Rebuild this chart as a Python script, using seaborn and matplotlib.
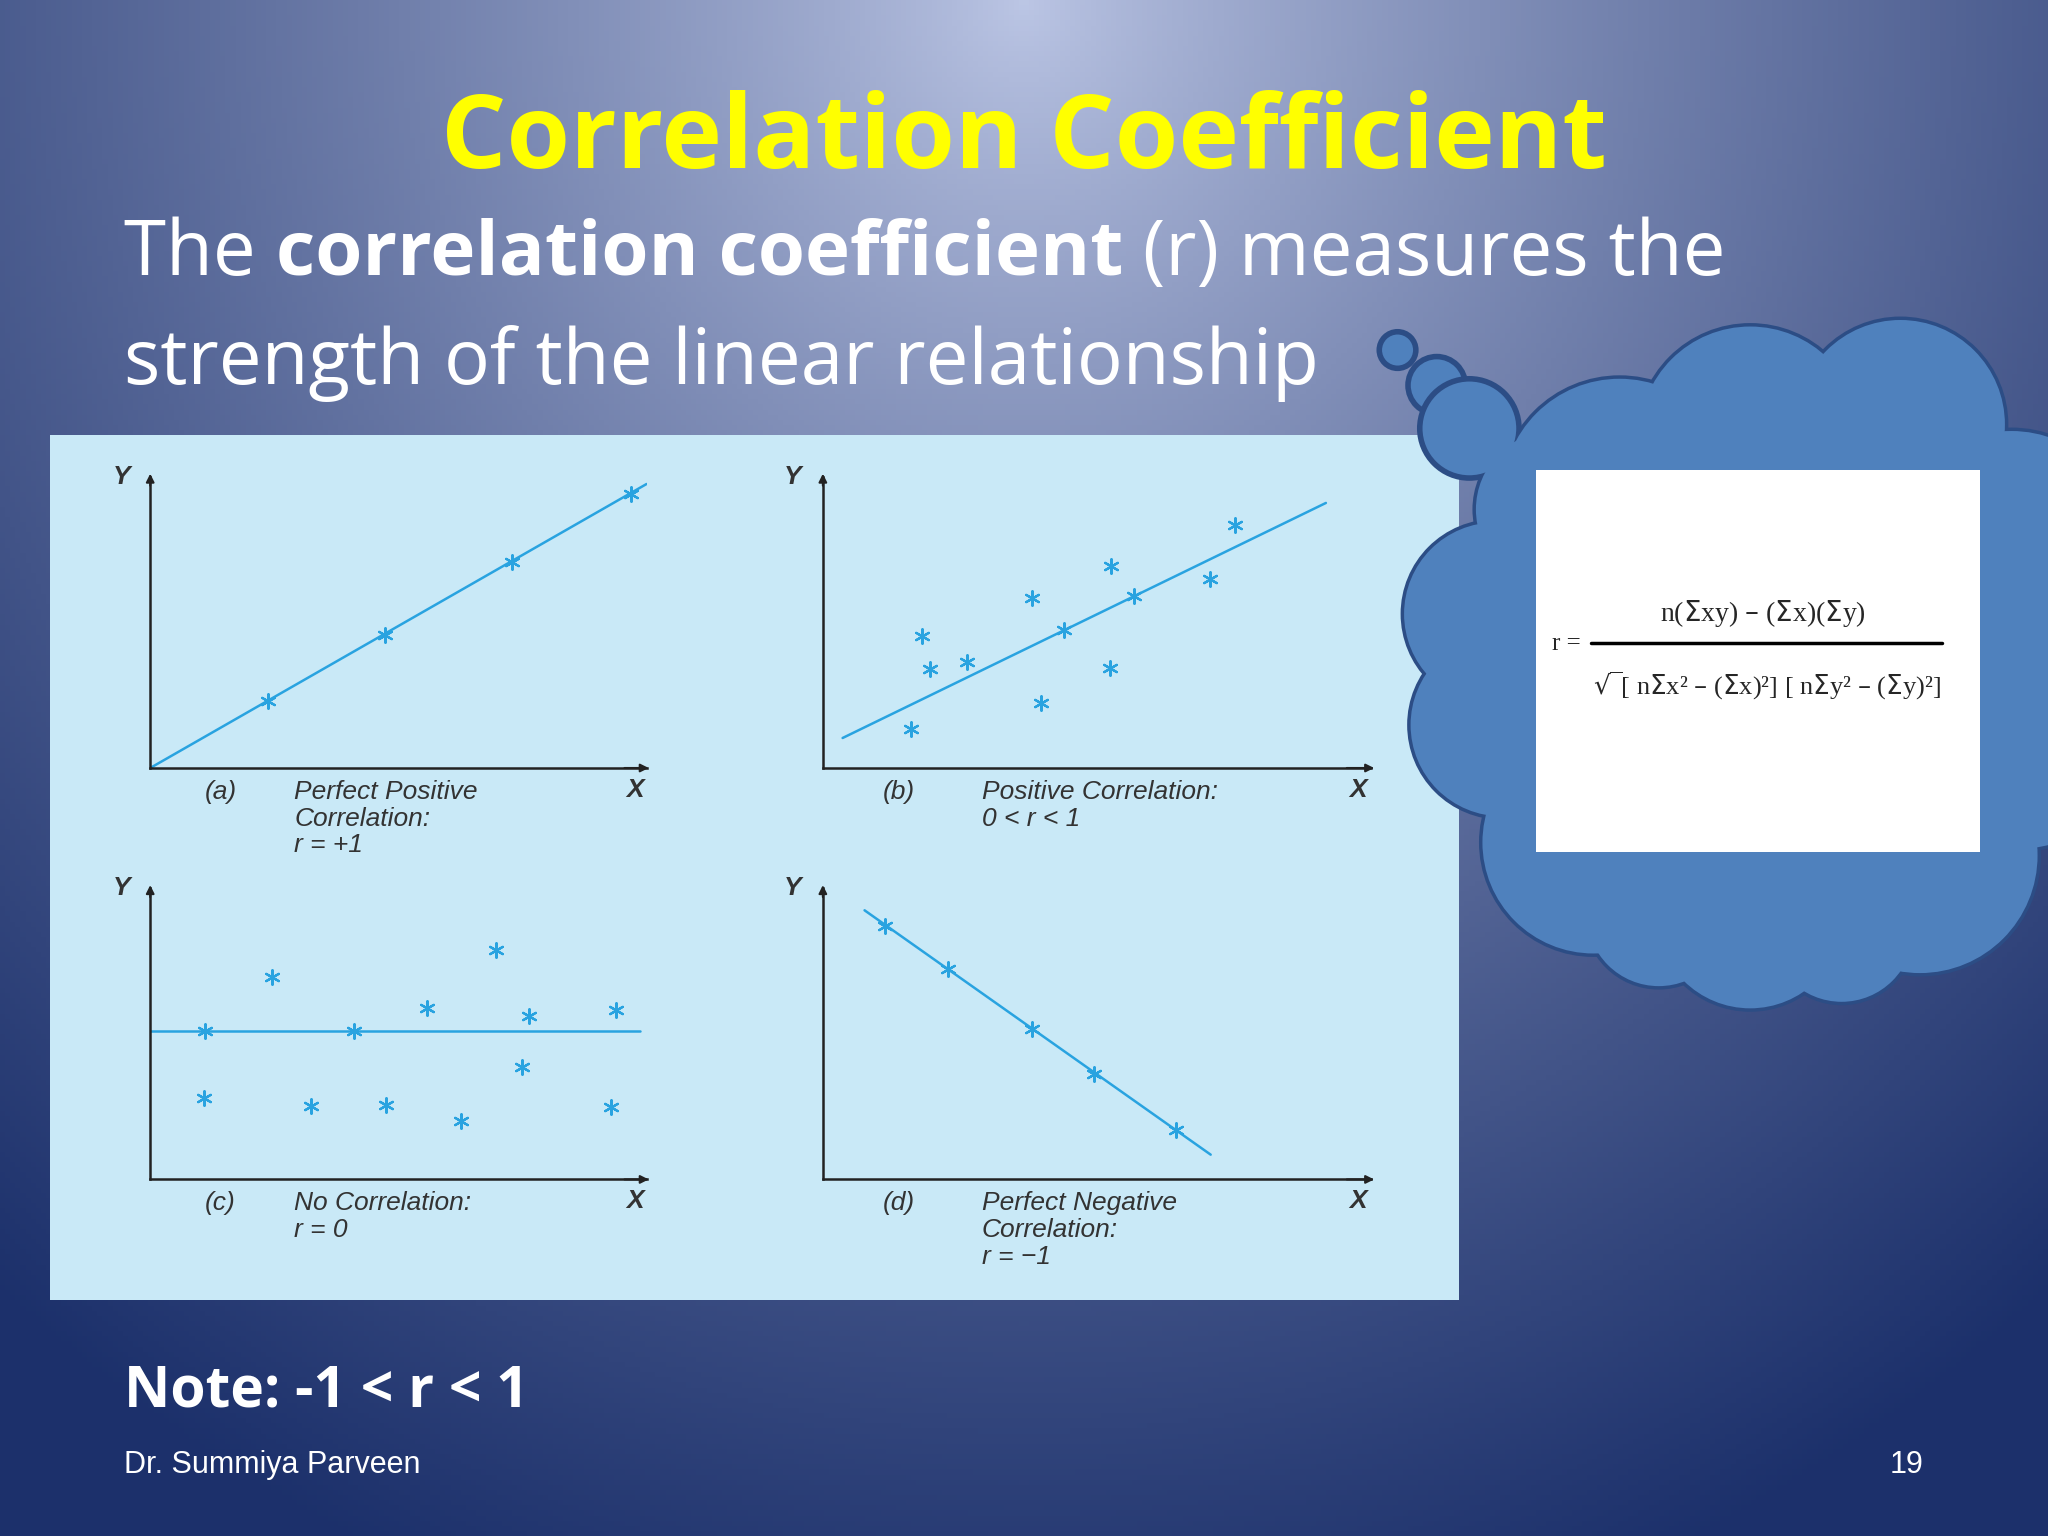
import numpy as np
import pandas as pd
import matplotlib
matplotlib.use("Agg")
import matplotlib.pyplot as plt
from matplotlib.patches import Rectangle, Circle
import seaborn as sns

sns.set_theme(style="white")
plt.rcParams['font.family'] = ['Open Sans', 'DejaVu Sans']

# ---- data (axes units 0..10) ----
a_x = [2.37, 4.74, 7.29, 9.68]
a_y = [2.29, 4.57, 7.08, 9.42]
a_line_x = [0.0, 10.0]
a_line_y = [0.0, 9.75]

b_x = [1.6, 1.81, 1.95, 2.62, 3.81, 3.98, 4.40, 5.26, 5.24, 5.67, 7.05, 7.52]
b_y = [1.35, 4.53, 3.41, 3.63, 5.83, 2.24, 4.75, 6.95, 3.45, 5.92, 6.5, 8.34]
b_line_x = [0.36, 9.17]
b_line_y = [1.03, 9.1]

c_x = [1.1, 2.45, 1.08, 3.24, 4.11, 4.76, 5.58, 6.26, 6.97, 7.63, 7.5, 9.39, 9.29]
c_y = [5.11, 6.95, 2.78, 2.51, 5.11, 2.56, 5.87, 2.02, 7.89, 5.6, 3.86, 5.83, 2.47]
c_line_x = [0.0, 9.87]
c_line_y = [5.11, 5.11]

d_x = [1.14, 2.29, 3.81, 4.95, 6.43]
d_y = [8.7, 7.22, 5.16, 3.63, 1.70]
d_line_x = [0.76, 7.07]
d_line_y = [9.24, 0.85]

captions = [
    ("(a)", "Perfect Positive\nCorrelation:\nr = +1"),
    ("(b)", "Positive Correlation:\n0 < r < 1"),
    ("(c)", "No Correlation:\nr = 0"),
    ("(d)", "Perfect Negative\nCorrelation:\nr = \u22121"),
]

W, H = 1568.0, 1176.0
def fx(px): return px / W
def fy(py): return 1 - py / H

fig = plt.figure(figsize=(20.48, 15.36), dpi=100)

# background gradient
bg = fig.add_axes([0, 0, 1, 1])
yy, xx = np.mgrid[0:1:300j, 0:1:400j]
d = np.sqrt(((xx - 0.5) * 1.3) ** 2 + (yy * 0.9) ** 2)
t = np.clip(d / 1.0, 0, 1) ** 0.8
top = np.array([0.74, 0.78, 0.90])
bot = np.array([0.11, 0.19, 0.42])
img = top[None, None, :] * (1 - t[..., None]) + bot[None, None, :] * t[..., None]
bg.imshow(img, extent=[0, W, H, 0], aspect='auto', origin='upper', zorder=0)
bg.set_xlim(0, W); bg.set_ylim(H, 0); bg.axis('off')

# light blue panel
bg.add_patch(Rectangle((38, 333), 1117 - 38, 995 - 333,
                       facecolor='#c9e9f7', edgecolor='none', zorder=2))

# cloud (pixel coords, y down)
cloud = [(1335, 520, 200), (1240, 380, 90), (1340, 335, 85), (1455, 325, 80),
         (1540, 420, 90), (1545, 560, 90), (1470, 655, 90), (1340, 700, 72),
         (1220, 645, 85), (1150, 555, 70), (1145, 470, 70), (1190, 390, 60),
         (1410, 712, 55), (1270, 700, 55)]
fc, ec = '#4f81bd', '#2c4d85'
for cx, cy, r in cloud:
    bg.add_patch(Circle((cx, cy), r, facecolor=fc, edgecolor=ec, linewidth=5, zorder=3))
for cx, cy, r in cloud:
    bg.add_patch(Circle((cx, cy), r, facecolor=fc, edgecolor='none', zorder=4))
for cx, cy, r in [(1070, 268, 14), (1100, 295, 22), (1125, 328, 38)]:
    bg.add_patch(Circle((cx, cy), r, facecolor=fc, edgecolor=ec, linewidth=4, zorder=3))

# white formula box
bg.add_patch(Rectangle((1176, 360), 1516 - 1176, 652 - 360,
                       facecolor='white', edgecolor='none', zorder=5))
fig.text(fx(1188), fy(493), "r =", fontsize=18, family=['Liberation Serif'], va='center', zorder=6)
fig.text(fx(1350), fy(470), r"n($\Sigma$xy) – ($\Sigma$x)($\Sigma$y)", fontsize=20,
         family=['Liberation Serif'], ha='center', va='center', zorder=6)
bg.plot([1218, 1487], [492, 492], color='black', lw=2.5, zorder=6)
fig.text(fx(1220), fy(525), r"$\sqrt{\,}$[ n$\Sigma$x² – ($\Sigma$x)²] [ n$\Sigma$y² – ($\Sigma$y)²]",
         fontsize=19, family=['Liberation Serif'], ha='left', va='center', zorder=6)

# titles
fig.text(fx(784), fy(108), "Correlation Coefficient", color='#ffff00', fontsize=74,
         fontweight='bold', ha='center', va='center')

renderer = fig.canvas.get_renderer()
x0 = fx(95)
for part, wt in [("The ", 'normal'), ("correlation coefficient", 'bold'), (" (r) measures the", 'normal')]:
    tx = fig.text(x0, fy(195), part, color='white', fontsize=55, fontweight=wt, va='center')
    bb = tx.get_window_extent(renderer)
    x0 += bb.width / fig.bbox.width
fig.text(fx(95), fy(278), "strength of the linear relationship", color='white', fontsize=55, va='center')
fig.text(fx(95), fy(1065), "Note: -1 < r < 1", color='white', fontsize=41, fontweight='bold', va='center')
fig.text(fx(95), fy(1122), "Dr. Summiya Parveen", color='white', fontsize=22,
         family=['Liberation Sans'], va='center')
fig.text(fx(1473), fy(1122), "19", color='white', fontsize=22,
         family=['Liberation Sans'], va='center', ha='right')

panels = [
    (115, 588, 380, a_x, a_y, a_line_x, a_line_y),
    (630, 588, 420, b_x, b_y, b_line_x, b_line_y),
    (115, 903, 380, c_x, c_y, c_line_x, c_line_y),
    (630, 903, 420, d_x, d_y, d_line_x, d_line_y),
]
pc = '#29a3e0'
for i, (ox, oy, wpx, px, py, lx, ly) in enumerate(panels):
    ax = fig.add_axes([fx(ox), fy(oy), wpx / W, 223 / H])
    ax.set_facecolor('none')
    sns.lineplot(x=lx, y=ly, ax=ax, color=pc, lw=1.8)
    sns.scatterplot(x=px, y=py, ax=ax, marker=(6, 2, 0), s=110, color=pc, linewidth=1.6, edgecolor=pc)
    ax.set_xlim(0, 10); ax.set_ylim(0, 10)
    ax.set_xticks([]); ax.set_yticks([])
    for s in ['top', 'right']:
        ax.spines[s].set_visible(False)
    for s in ['left', 'bottom']:
        ax.spines[s].set_color('#222222'); ax.spines[s].set_linewidth(1.8)
    ax.annotate('', xy=(10.1, 0), xytext=(9.5, 0), arrowprops=dict(arrowstyle='-|>', color='#222222', lw=1.5),
                annotation_clip=False)
    ax.annotate('', xy=(0, 10.2), xytext=(0, 9.6), arrowprops=dict(arrowstyle='-|>', color='#222222', lw=1.5),
                annotation_clip=False)
    ax.text(-0.4, 10.0, "Y", fontsize=19, style='italic', fontweight='bold', color='#333333',
            ha='right', va='center', family=['Liberation Sans'])
    ax.text(9.6, -0.75, "X", fontsize=19, style='italic', fontweight='bold', color='#333333',
            ha='left', va='center', family=['Liberation Sans'])
    lab, cap = captions[i]
    ax.text(1.1, -0.4, lab, fontsize=19, style='italic', color='#333333', va='top', ha='left',
            family=['Liberation Sans'])
    ax.text(2.9, -0.4, cap, fontsize=19, style='italic', color='#333333', va='top', ha='left',
            family=['Liberation Sans'], linespacing=1.15)

fig.savefig("out.png", dpi=100)
